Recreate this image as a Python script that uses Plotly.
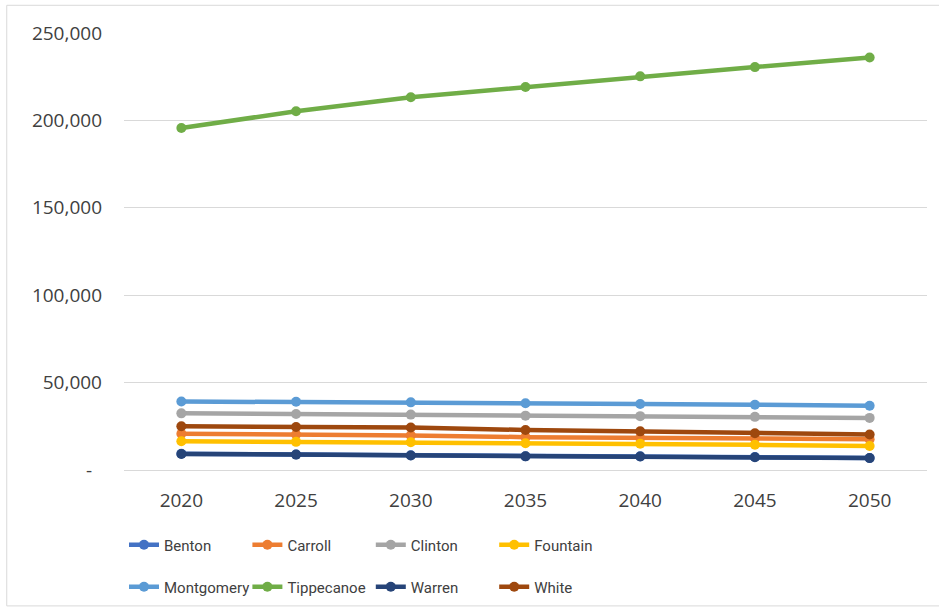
import plotly.graph_objects as go

# Projection years (category axis)
years = ["2020", "2025", "2030", "2035", "2040", "2045", "2050"]

# Projected population by county
benton = [9300, 8900, 8400, 7900, 7800, 7400, 6900]
carroll = [20700, 20300, 19800, 18800, 18300, 18000, 17600]
clinton = [32400, 32000, 31700, 31100, 30800, 30400, 29800]
fountain = [16400, 16100, 15900, 15300, 15000, 14400, 13700]
montgomery = [39200, 39000, 38700, 38200, 37800, 37300, 36800]
tippecanoe = [195700, 205200, 213200, 219100, 225200, 230500, 236000]
warren = [9200, 8800, 8300, 7800, 7700, 7300, 6800]
white = [25000, 24600, 24300, 22900, 22100, 21000, 20300]

series = [
    ("Benton", benton, "#4472C4", "legend"),
    ("Carroll", carroll, "#ED7D31", "legend"),
    ("Clinton", clinton, "#A5A5A5", "legend"),
    ("Fountain", fountain, "#FFC000", "legend"),
    ("Montgomery", montgomery, "#5B9BD5", "legend2"),
    ("Tippecanoe", tippecanoe, "#70AD47", "legend2"),
    ("Warren", warren, "#264478", "legend2"),
    ("White", white, "#9E480E", "legend2"),
]

y_ticks = [0, 50000, 100000, 150000, 200000, 250000]
y_tick_text = ["-\u00a0\u00a0", "50,000", "100,000", "150,000", "200,000", "250,000"]

fig = go.Figure()
for name, values, color, leg in series:
    fig.add_trace(go.Scatter(
        x=years, y=values, name=name, mode="lines+markers",
        line=dict(color=color, width=4.5),
        marker=dict(color=color, size=10),
        legend=leg,
    ))

axis_font = dict(family="Open Sans, sans-serif", size=19, color="#404040")
legend_font = dict(family="Roboto, sans-serif", size=15, color="#404040")

legend_common = dict(orientation="h", x=0, xanchor="left",
                     yref="container", yanchor="middle",
                     entrywidth=78.4, entrywidthmode="pixels", font=legend_font,
                     bgcolor="rgba(0,0,0,0)", traceorder="normal")

fig.update_layout(
    width=939, height=614,
    margin=dict(l=124, r=12, t=33, b=144),
    paper_bgcolor="white", plot_bgcolor="white",
    xaxis=dict(type="category", range=[-0.5, 6.5], showgrid=False,
               showline=False, zeroline=False, tickfont=axis_font,
               ticks="", ticklabelstandoff=17),
    yaxis=dict(range=[0, 250000], tickvals=y_ticks, ticktext=y_tick_text,
               showgrid=True, gridcolor="#D9D9D9", gridwidth=1,
               zeroline=True, zerolinecolor="#D9D9D9", zerolinewidth=1,
               showline=False, tickfont=axis_font, ticks="",
               ticklabelstandoff=21),
    legend=dict(legend_common, y=0.1124),
    legend2=dict(legend_common, y=0.044),
    shapes=[dict(type="rect", xref="paper", yref="paper",
                 x0=-0.146, x1=1.03, y0=-0.311, y1=1.0634,
                 line=dict(color="#D9D9D9", width=1), layer="below")],
)

fig.write_html("out.html")
